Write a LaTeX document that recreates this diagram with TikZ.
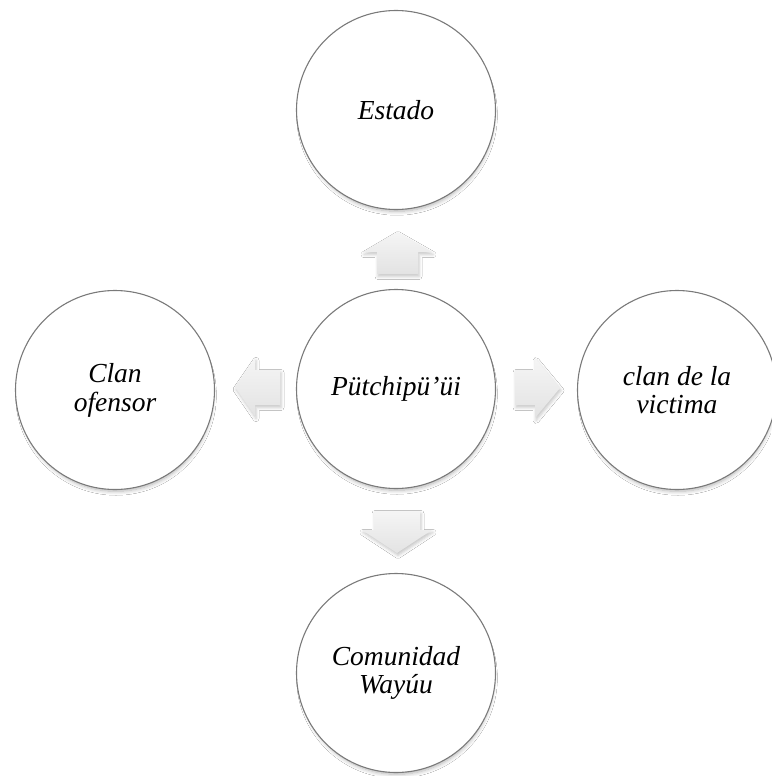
\documentclass[tikz,border=0pt]{standalone}
\usepackage{fontspec}
\setmainfont{Liberation Serif}
\usetikzlibrary{shadows.blur}
\begin{document}
\begin{tikzpicture}[x=1pt,y=-1pt,
  bubble/.style={circle, draw=black!52, line width=1.1pt, fill=white,
    minimum size=199pt, inner sep=0pt, align=center,
    font=\fontsize{27.5}{27.5}\selectfont\itshape,
    blur shadow={shadow scale=0.97, shadow xshift=1pt, shadow yshift=-5pt,
      shadow blur radius=4pt, shadow blur steps=8, shadow opacity=30}},
  blockarrow/.style={draw=none, top color=black!4, bottom color=black!11,
    blur shadow={shadow xshift=1pt, shadow yshift=-2.5pt,
      shadow blur radius=3pt, shadow opacity=22}}]
% page
\fill[white] (0,0) rectangle (771,776);
\useasboundingbox (0,0) rectangle (771,776);

% block arrows pointing outward from the hub
\path[blockarrow] (377,274) -- (377,252) -- (363,252) -- (397,232)
  -- (432,252) -- (418,252) -- (418,274) -- cycle;
\path[blockarrow] (374,511) -- (420,511) -- (420,530) -- (432,530)
  -- (397,553) -- (362,530) -- (374,530) -- cycle;
\path[blockarrow] (280,370) -- (255,370) -- (255,358) -- (235,387)
  -- (255,416) -- (255,405) -- (280,405) -- cycle;
\path[blockarrow] (515,370) -- (535,370) -- (535,358) -- (560,388)
  -- (535,418) -- (535,405) -- (515,405) -- cycle;

% circles
\node[bubble] (estado) at (396,110) {Estado};
\node[bubble] (hub) at (396,389) {Pütchipü’üi};
\node[bubble] (ofensor) at (115,390) {\strut Clan\\ofensor};
\node[bubble] (victima) at (677,390) {clan de la\\victima};
\node[bubble] (wayuu) at (396,673) {Comunidad\\Wayúu};
\end{tikzpicture}
\end{document}
